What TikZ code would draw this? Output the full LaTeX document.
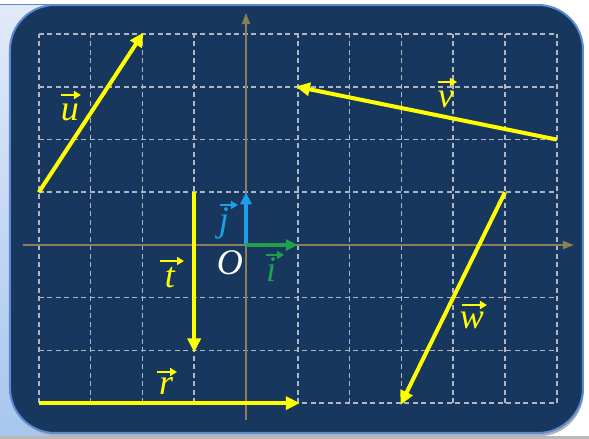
\documentclass[tikz,border=0pt]{standalone}
\usepackage{fontspec}
\newfontfamily\labfont{Liberation Serif}
\usetikzlibrary{arrows.meta}
\definecolor{navy}{HTML}{17375E}
\definecolor{boxline}{HTML}{5B8AD0}
\definecolor{gridc}{HTML}{B0B6C2}
\definecolor{axisc}{HTML}{8C7F55}
\definecolor{vyel}{HTML}{FFFF00}
\definecolor{jblue}{HTML}{1AA0E6}
\definecolor{igreen}{HTML}{1FA04E}
\definecolor{panelT}{HTML}{E2EAF9}
\definecolor{panelB}{HTML}{A8C6EE}
\tikzset{
  gridline/.style={draw=gridc,line width=1.6pt,dash pattern=on 5pt off 3.5pt},
  axisline/.style={draw=axisc,line width=1.8pt,-{Triangle[length=11pt,width=8pt]}},
  vecline/.style={draw=vyel,line width=4pt,-{Triangle[length=14pt,width=13pt]},shorten >=-2pt},
  unitvec/.style={line width=3.2pt,-{Triangle[length=12pt,width=11pt]}},
  lab/.style={inner sep=0pt,anchor=base,font=\labfont\itshape\fontsize{36}{40}\selectfont},
  labarrow/.style={line width=2.8pt,-{Triangle[length=7pt,width=8pt]}}
}
\begin{document}
\begin{tikzpicture}[x=51.8pt,y=52.7pt]
\useasboundingbox (-4.749,4.649) rectangle (6.622,-3.681);
% background panel
\fill[white] (-4.749,4.649) rectangle (6.622,-3.681);
\shade[top color=panelT,bottom color=panelB] (-4.749,4.57) rectangle (1.5,-3.62);
\draw[boxline,line width=1.2pt] (-4.749,4.57) -- (1.5,4.57);
\fill[gray!55] (-4.749,-3.62) rectangle (6.622,-3.681);
% shadow
\fill[black!30,rounded corners=45pt] (-4.50,4.50) rectangle (6.52,-3.63);
% main box
\draw[fill=navy,draw=boxline,line width=2pt,rounded corners=45pt] (-4.556,4.554) rectangle (6.506,-3.567);
% grid
\foreach \x in {-4,...,6} \draw[gridline] (\x,-3) -- (\x,4);
\foreach \y in {-3,...,4} \draw[gridline] (-4,\y) -- (6,\y);
% axes
\coordinate (xs) at (-4.31,0);
\coordinate (xe) at (6.33,0);
\coordinate (ys) at (0,-3.32);
\coordinate (ye) at (0,4.4);
\draw[axisline] (xs) -- (xe);
\draw[axisline] (ys) -- (ye);
% vector end points
\coordinate (O) at (0,0);
\coordinate (u1) at (-4,1);  \coordinate (u2) at (-2,4);
\coordinate (v1) at (6,2);   \coordinate (v2) at (1,3);
\coordinate (t1) at (-1,1);  \coordinate (t2) at (-1,-2);
\coordinate (r1) at (-4,-3); \coordinate (r2) at (1,-3);
\coordinate (w1) at (5,1);   \coordinate (w2) at (3,-3);
\coordinate (jE) at (0,1);   \coordinate (iE) at (1,0);
% vectors
\draw[vecline] (u1) -- (u2);
\draw[vecline] (v1) -- (v2);
\draw[vecline] (t1) -- (t2);
\draw[vecline] (r1) -- (r2);
\draw[vecline] (w1) -- (w2);
\draw[unitvec,draw=jblue,fill=jblue] (O) -- (jE);
\draw[unitvec,draw=igreen,fill=igreen] (O) -- (iE);
% labels
\node[lab,text=vyel] (lu) at (-3.398,2.353) {u};
\node[lab,text=vyel] (lv) at (3.861,2.600) {v};
\node[lab,text=vyel] (lt) at (-1.467,-0.816) {t};
\node[lab,text=vyel] (lr) at (-1.544,-2.846) {r};
\node[lab,text=vyel] (lw) at (4.363,-1.594) {w};
\node[lab,text=jblue] (lj) at (-0.425,0.247) {j};
\node[lab,text=igreen] (li) at (0.483,-0.702) {i};
\node[lab,text=white] (lO) at (-0.309,-0.569) {O};
% label arrows
\draw[labarrow,draw=vyel,fill=vyel] ([shift={(-9pt,26pt)}]lu.base) -- ++(20pt,0);
\draw[labarrow,draw=vyel,fill=vyel] ([shift={(-8pt,26pt)}]lv.base) -- ++(19pt,0);
\draw[labarrow,draw=vyel,fill=vyel] ([shift={(-10pt,27pt)}]lt.base) -- ++(24pt,0);
\draw[labarrow,draw=vyel,fill=vyel] ([shift={(-9pt,23pt)}]lr.base) -- ++(20pt,0);
\draw[labarrow,draw=vyel,fill=vyel] ([shift={(-10pt,24pt)}]lw.base) -- ++(25pt,0);
\draw[labarrow,draw=jblue,fill=jblue] ([shift={(-4pt,27pt)}]lj.base) -- ++(18pt,0);
\draw[labarrow,draw=igreen,fill=igreen] ([shift={(-5pt,27pt)}]li.base) -- ++(18pt,0);
\end{tikzpicture}
\end{document}
